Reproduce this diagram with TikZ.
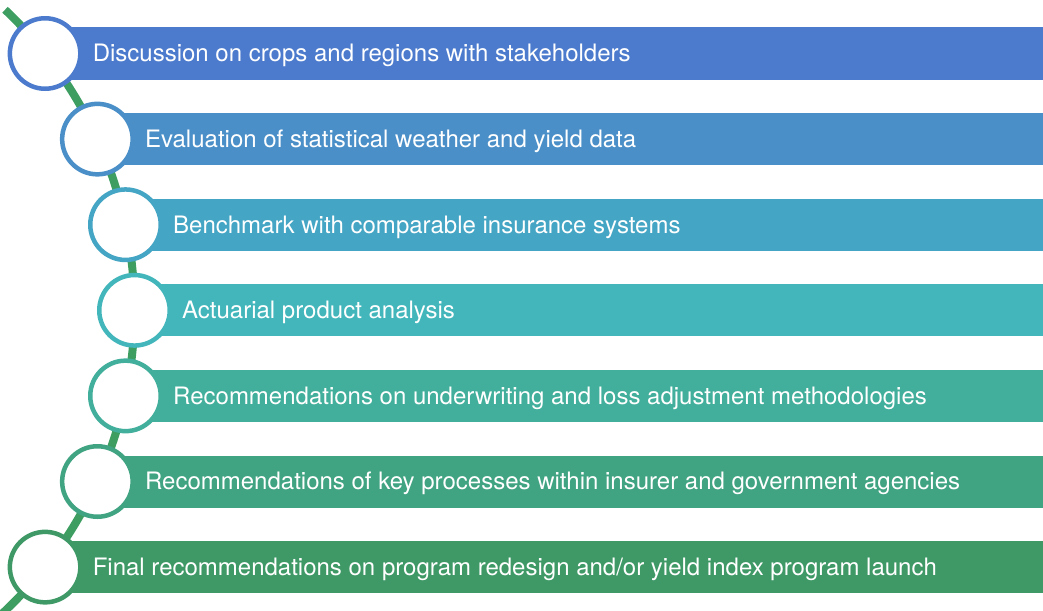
\documentclass[tikz,border=0pt]{standalone}
\usepackage{fontspec}
\setmainfont{TeX Gyre Heros}
% step colours, from blue at the top to green at the bottom
\definecolor{stepA}{RGB}{76,123,205}
\definecolor{stepB}{RGB}{74,143,200}
\definecolor{stepC}{RGB}{68,165,196}
\definecolor{stepD}{RGB}{66,182,187}
\definecolor{stepE}{RGB}{65,175,155}
\definecolor{stepF}{RGB}{64,163,130}
\definecolor{stepG}{RGB}{63,153,103}
\definecolor{spinegreen}{RGB}{62,158,98}
\begin{document}
\begin{tikzpicture}[x=1pt,y=-1pt,
  bar/.style={fill=#1, draw=none, minimum height=52pt, inner sep=0pt, outer sep=0pt, anchor=west},
  ring/.style={circle, draw=#1, fill=white, line width=4.5pt, minimum size=70.5pt, inner sep=0pt},
  steplabel/.style={anchor=base west, text=white, inner sep=0pt, font=\fontsize{24}{28}\selectfont},
  spine/.style={draw=spinegreen, line width=8pt}]
\useasboundingbox (0,0) rectangle (1043,610);
\clip (0,0) rectangle (1043,610);

% bars and their labels
\foreach \i/\cx/\cy/\col/\txt in {
  1/45.1/53.5/stepA/{Discussion on crops and regions with stakeholders},
  2/97.4/139.1/stepB/{Evaluation of statistical weather and yield data},
  3/125.5/224.7/stepC/{Benchmark with comparable insurance systems},
  4/134.5/310.3/stepD/{Actuarial product analysis},
  5/125.5/395.9/stepE/{Recommendations on underwriting and loss adjustment methodologies},
  6/97.4/481.5/stepF/{Recommendations of key processes within insurer and government agencies},
  7/45.1/567.1/stepG/{Final recommendations on program redesign and/or yield index program launch}}
{
  \pgfmathsetmacro{\bw}{1043-\cx}
  \node[bar=\col, minimum width=\bw pt] (b\i) at (\cx,\cy) {};
  \node[steplabel] (t\i) at (\cx+47.5,\cy+8.3) {\txt};
}

% curved spine through the step circles
\coordinate (spinetop) at ({-279.2+413.7*cos(-46.6)},{310.3+413.7*sin(-46.6)});
\draw[spine] (spinetop) arc[start angle=-46.6, end angle=48, radius=413.7];

% step circles
\foreach \i/\cx/\cy/\col in {
  1/45.1/53.5/stepA, 2/97.4/139.1/stepB, 3/125.5/224.7/stepC, 4/134.5/310.3/stepD,
  5/125.5/395.9/stepE, 6/97.4/481.5/stepF, 7/45.1/567.1/stepG}
{
  \node[ring=\col] (c\i) at (\cx,\cy) {};
}
\end{tikzpicture}
\end{document}
